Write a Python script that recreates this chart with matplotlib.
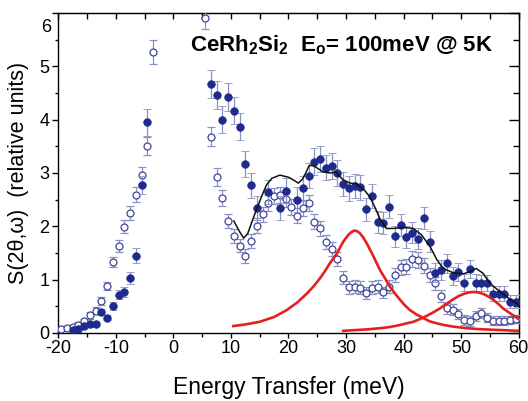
import matplotlib
matplotlib.use("Agg")
import matplotlib.pyplot as plt
from matplotlib.ticker import MultipleLocator, FuncFormatter

plt.rcParams['font.family'] = ['Liberation Sans', 'DejaVu Sans']
plt.rcParams['mathtext.fontset'] = 'custom'
plt.rcParams['mathtext.rm'] = 'Liberation Sans'
plt.rcParams['mathtext.bf'] = 'Liberation Sans:bold'
plt.rcParams['mathtext.it'] = 'Liberation Sans:italic'
plt.rcParams['axes.unicode_minus'] = False

# ---- open circles (reference measurement) ----
open_x = [-19.5, -18.5, -17.5, -16.5, -15.5, -14.5, -13.5, -12.5, -11.5, -10.5,
          -9.5, -8.5, -7.5, -6.5, -5.5, -4.5, -3.5,
          5.5, 6.5, 7.5, 8.5, 9.5, 10.5, 11.5, 12.5, 13.5, 14.5, 15.5, 16.5, 17.5,
          18.5, 19.5, 20.5, 21.5, 22.5, 23.5, 24.5, 25.5, 26.5, 27.5, 28.5, 29.5,
          30.5, 31.5, 32.5, 33.5, 34.5, 35.5, 36.5, 37.5, 38.5, 39.5, 40.5, 41.5,
          42.5, 43.5, 44.5, 45.5, 46.5, 47.5, 48.5, 49.5, 50.5, 51.5, 52.5, 53.5,
          54.5, 55.5, 56.5, 57.5, 58.5, 59.5]
open_y = [0.07, 0.09, 0.11, 0.15, 0.22, 0.33, 0.42, 0.60, 0.88, 1.33,
          1.63, 1.99, 2.25, 2.59, 2.96, 3.50, 5.27,
          5.90, 3.68, 2.92, 2.54, 2.10, 1.82, 1.64, 1.44, 1.73, 2.01, 2.23, 2.43, 2.56,
          2.59, 2.51, 2.37, 2.20, 2.34, 2.43, 2.09, 1.96, 1.71, 1.57, 1.39, 1.04,
          0.86, 0.87, 0.85, 0.75, 0.85, 0.87, 0.76, 0.87, 1.09, 1.23, 1.24, 1.39,
          1.36, 1.26, 1.09, 0.93, 0.70, 0.46, 0.44, 0.36, 0.24, 0.23, 0.32, 0.38,
          0.29, 0.23, 0.23, 0.23, 0.24, 0.26]
open_err = [0.04, 0.04, 0.04, 0.05, 0.05, 0.06, 0.06, 0.07, 0.08, 0.10,
            0.12, 0.12, 0.13, 0.14, 0.16, 0.17, 0.23,
            0.20, 0.18, 0.17, 0.15, 0.14, 0.13, 0.13, 0.13, 0.13, 0.14, 0.14, 0.15, 0.15,
            0.15, 0.15, 0.15, 0.14, 0.15, 0.15, 0.14, 0.14, 0.13, 0.13, 0.13, 0.12,
            0.12, 0.12, 0.12, 0.11, 0.12, 0.12, 0.11, 0.12, 0.13, 0.14, 0.14, 0.15,
            0.15, 0.14, 0.13, 0.12, 0.11, 0.10, 0.10, 0.09, 0.09, 0.09, 0.09, 0.09,
            0.08, 0.08, 0.08, 0.08, 0.08, 0.08]

# ---- filled circles (CeRh2Si2) ----
fill_x = [-17.5, -16.5, -15.5, -14.5, -13.5, -12.5, -11.5, -10.5, -9.5, -8.5,
          -7.5, -6.5, -5.5, -4.5,
          6.5, 7.5, 8.5, 9.5, 10.5, 11.5, 12.5, 13.5, 14.5, 16.5, 18.5, 19.5,
          21.5, 22.5, 23.5, 24.5, 25.5, 26.5, 27.5, 28.5, 29.5, 30.5, 31.5, 32.5,
          33.5, 34.5, 35.5, 36.5, 37.5, 38.5, 39.5, 40.5, 41.5, 42.5, 43.5, 44.5,
          45.5, 46.5, 47.5, 48.5, 49.5, 50.5, 51.5, 52.5, 53.5, 54.5, 55.5, 56.5,
          57.5, 58.5, 59.5]
fill_y = [0.05, 0.07, 0.13, 0.16, 0.17, 0.39, 0.29, 0.51, 0.72, 0.77,
          1.03, 1.45, 2.78, 3.95,
          4.67, 4.46, 4.00, 4.42, 4.17, 3.87, 3.17, 2.77, 2.34, 2.64, 2.34, 2.67,
          2.50, 2.71, 2.95, 3.21, 3.26, 3.10, 3.13, 3.00, 2.79, 2.71, 2.76, 2.73,
          2.32, 2.57, 2.08, 2.06, 2.37, 1.81, 2.03, 1.80, 1.88, 1.77, 2.16, 1.71,
          1.13, 1.18, 1.31, 1.07, 1.15, 0.94, 1.20, 0.94, 0.94, 0.93, 0.74, 0.74,
          0.74, 0.59, 0.59]
fill_err = [0.03, 0.03, 0.04, 0.04, 0.04, 0.06, 0.05, 0.07, 0.08, 0.09,
            0.11, 0.14, 0.17, 0.25,
            0.26, 0.26, 0.25, 0.26, 0.25, 0.25, 0.24, 0.23, 0.22, 0.23, 0.22, 0.23,
            0.23, 0.24, 0.24, 0.25, 0.25, 0.24, 0.24, 0.24, 0.23, 0.23, 0.23, 0.23,
            0.22, 0.22, 0.21, 0.21, 0.22, 0.20, 0.21, 0.20, 0.20, 0.20, 0.21, 0.20,
            0.18, 0.18, 0.18, 0.17, 0.17, 0.16, 0.17, 0.16, 0.15, 0.15, 0.14, 0.14,
            0.14, 0.12, 0.12]

# ---- total fit (black) ----
fit_x = [10.5, 11.5, 12.2, 12.9, 13.9, 14.6, 15.4, 16.2, 17.1, 18.5, 20.0,
         21.0, 21.7, 22.4, 22.9, 23.6, 24.2, 24.9, 26.0, 27.2, 28.2, 29.5,
         30.7, 31.8, 32.4, 33.2, 34.2, 35.0, 35.9, 37.0, 38.2, 39.9, 41.7,
         43.1, 44.6, 45.8, 46.9, 48.6, 50.4, 51.5, 52.6, 53.8, 55.0, 56.8,
         58.5, 60.0]
fit_y = [2.10, 1.90, 1.78, 1.86, 2.16, 2.36, 2.58, 2.78, 2.90, 2.96, 2.92,
         2.86, 2.81, 2.88, 2.98, 3.14, 3.14, 3.10, 3.02, 3.00, 3.02, 2.87,
         2.81, 2.80, 2.74, 2.68, 2.54, 2.36, 2.14, 1.96, 1.96, 1.98, 1.96,
         1.84, 1.62, 1.37, 1.21, 1.13, 1.11, 1.15, 1.21, 1.12, 0.93, 0.77,
         0.63, 0.53]

# ---- red component peaks ----
peak1_x = [10.4, 12.5, 15.0, 17.5, 19.7, 21.5, 23.2, 24.4, 25.5, 26.4, 27.2,
           28.4, 29.5, 30.4, 30.9, 31.4, 31.9, 32.4, 33.0, 33.6, 34.7, 35.9,
           36.8, 37.6, 38.5, 39.4, 40.2, 41.1, 42.2, 43.4, 44.5, 45.8, 47.0,
           48.6, 50.5, 52.7, 54.5, 56.8, 58.0, 60.0]
peak1_y = [0.13, 0.16, 0.21, 0.30, 0.43, 0.57, 0.74, 0.88, 1.03, 1.17, 1.31,
           1.49, 1.71, 1.84, 1.89, 1.92, 1.91, 1.87, 1.79, 1.68, 1.45, 1.18,
           1.02, 0.87, 0.74, 0.62, 0.52, 0.43, 0.35, 0.28, 0.22, 0.18, 0.15,
           0.12, 0.095, 0.075, 0.065, 0.055, 0.05, 0.04]
peak2_x = [29.5, 31.0, 32.4, 34.0, 35.9, 37.5, 39.4, 40.5, 41.7, 42.8, 44.0,
           45.2, 46.3, 47.5, 48.6, 49.5, 50.4, 51.3, 52.1, 53.0, 53.9, 54.8,
           55.6, 56.5, 57.3, 58.5, 60.0]
peak2_y = [0.04, 0.05, 0.06, 0.07, 0.09, 0.11, 0.15, 0.18, 0.21, 0.26, 0.32,
           0.39, 0.46, 0.55, 0.63, 0.69, 0.73, 0.76, 0.77, 0.76, 0.73, 0.68,
           0.62, 0.54, 0.46, 0.37, 0.26]

x_ticks = [-20, -10, 0, 10, 20, 30, 40, 50, 60]
y_ticks = [0, 1, 2, 3, 4, 5, 6]

navy = '#1e2a8c'
open_c = '#3c4698'
err_c = '#8c90c4'

fig = plt.figure(figsize=(5.28, 4.01), dpi=100)
ax = fig.add_axes([0.1104, 0.1696, 0.8720, 0.7980])

ax.errorbar(open_x, open_y, yerr=open_err, fmt='o', ms=5.0, mfc='white',
            mec=open_c, mew=0.9, ecolor=err_c, elinewidth=0.9, capsize=2.6,
            capthick=0.9, zorder=3)
ax.errorbar(fill_x, fill_y, yerr=fill_err, fmt='o', ms=5.4, mfc=navy,
            mec=navy, mew=0.6, ecolor=err_c, elinewidth=0.9, capsize=2.6,
            capthick=0.9, zorder=4)
ax.plot(peak1_x, peak1_y, color='#e4201c', lw=1.9, zorder=5, solid_joinstyle='round')
ax.plot(peak2_x, peak2_y, color='#e4201c', lw=1.9, zorder=5, solid_joinstyle='round')
ax.plot(fit_x, fit_y, color='#111111', lw=1.1, zorder=6, solid_joinstyle='round')

ax.set_xlim(-20, 60)
ax.set_ylim(0, 6)
ax.set_xticks(x_ticks)
ax.set_yticks(y_ticks)
ax.xaxis.set_minor_locator(MultipleLocator(5))
ax.yaxis.set_minor_locator(MultipleLocator(0.5))
ax.yaxis.set_major_formatter(FuncFormatter(lambda v, p: '' if v > 5.5 else '%d' % v))

for s in ax.spines.values():
    s.set_linewidth(1.0)

ax.tick_params(axis='x', which='both', direction='out', bottom=True, top=False,
               labelsize=13, pad=1.5, width=1.0)
ax.tick_params(axis='x', which='major', length=3.5)
ax.tick_params(axis='x', which='minor', length=3.0)
ax.tick_params(axis='y', which='both', direction='out', left=True, right=False,
               labelsize=13, pad=2.5, width=1.0)
ax.tick_params(axis='y', which='major', length=4)
ax.tick_params(axis='y', which='minor', length=2.5)

# mirrored inward ticks on top and right
secx = ax.secondary_xaxis('top')
secx.set_xticks(x_ticks)
secx.xaxis.set_minor_locator(MultipleLocator(5))
secx.tick_params(axis='x', which='both', direction='in', labeltop=False, width=1.0)
secx.tick_params(axis='x', which='major', length=4)
secx.tick_params(axis='x', which='minor', length=4)
secy = ax.secondary_yaxis('right')
secy.set_yticks(y_ticks)
secy.yaxis.set_minor_locator(MultipleLocator(0.5))
secy.tick_params(axis='y', which='both', direction='in', labelright=False, width=1.0)
secy.tick_params(axis='y', which='major', length=7)
secy.tick_params(axis='y', which='minor', length=4)

ax.annotate('6', xy=(0, 6), xycoords=('axes fraction', 'data'),
            xytext=(-7.5, -15), textcoords='offset pixels', ha='right', va='center',
            fontsize=13)

ax.set_xlabel('Energy Transfer (meV)', fontsize=16.5, labelpad=14)
ax.set_ylabel('S(2θ,ω)  (relative units)', fontsize=15.5, labelpad=7)

ax.text(0.286, 0.879, r'CeRh$_\mathbf{2}$Si$_\mathbf{2}$  E$_\mathbf{o}$= 100meV @ 5K',
        transform=ax.transAxes, ha='left', va='baseline', fontsize=16,
        fontweight='bold')

fig.savefig('out.png', dpi=100)
